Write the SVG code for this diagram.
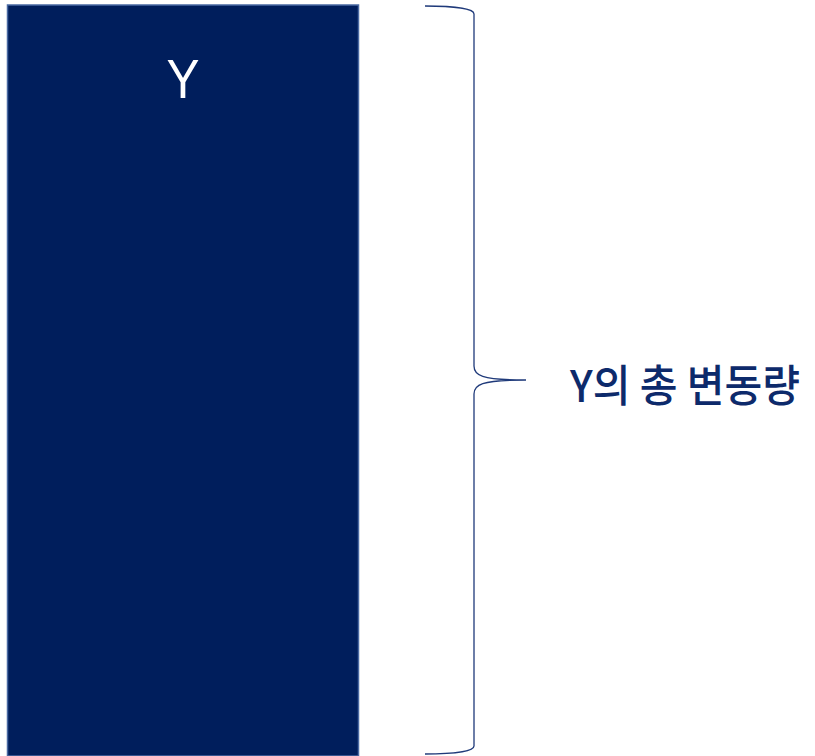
<svg xmlns="http://www.w3.org/2000/svg" width="815" height="756" viewBox="0 0 815 756">
<style>
.brace{fill:none;stroke:#1f3a7a;stroke-width:1.3}
</style>
<rect width="815" height="756" fill="#ffffff"/>
<g id="box">
<rect x="7.5" y="5" width="351" height="751" fill="#001e5c" stroke="#4a6aa3" stroke-width="1.5"/>
<text x="183" y="98" font-family="Liberation Sans, sans-serif" font-size="55" fill="#ffffff" text-anchor="middle" textLength="33" lengthAdjust="spacingAndGlyphs">Y</text>
</g>
<g id="connectors">
<path class="brace" d="M425,6 C455,6 474,9 474,14 L474,366 C474,375 480,380 526,380 C480,380 474,385 474,394 L474,746 C474,751 455,754 425,754"/>
</g>
<g id="label">
<text x="570" y="402" font-family="Noto Sans CJK KR, sans-serif" font-size="44" font-weight="500" fill="#0d2a6b" textLength="230" lengthAdjust="spacingAndGlyphs">Y의 총 변동량</text>
</g>
</svg>
